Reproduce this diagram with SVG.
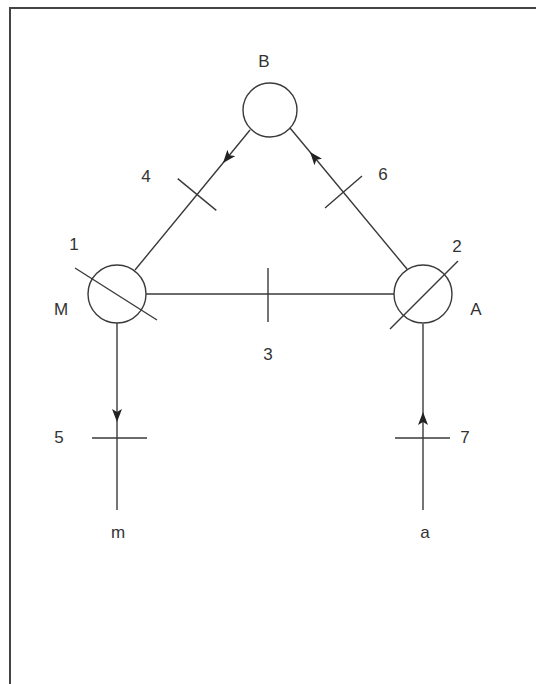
<svg xmlns="http://www.w3.org/2000/svg" width="536" height="684" viewBox="0 0 536 684">
<style>
.ln{stroke:#3a3a3a;stroke-width:1.4;fill:none}
.nd{stroke:#3a3a3a;stroke-width:1.4;fill:#fff}
.tx{font-family:"Liberation Sans",Arial,sans-serif;font-size:17px;fill:#333;text-anchor:middle}
.fr{stroke:#444;stroke-width:2;fill:none}
</style>
<defs>
<marker id="ah" viewBox="0 0 13 10" refX="13" refY="5" markerWidth="13" markerHeight="10" markerUnits="userSpaceOnUse" orient="auto">
<path d="M0,0 L13,5 L0,10 L3,5 Z" fill="#222"/>
</marker>
</defs>
<rect width="536" height="684" fill="#fff"/>
<path class="fr" d="M10,684 L10,8 L536,8"/>
<g id="connectors">
<path class="ln" d="M250,130 L223,163 L135,270" marker-mid="url(#ah)"/>
<line class="ln" x1="177.7" y1="178.6" x2="216.3" y2="210.4"/>
<path class="ln" d="M407,269 L310,152 L290,128" marker-mid="url(#ah)"/>
<line class="ln" x1="362" y1="176" x2="325" y2="208"/>
<line class="ln" x1="146" y1="294" x2="394" y2="294"/>
<line class="ln" x1="268" y1="268" x2="268" y2="322"/>
<path class="ln" d="M117,323 L117,422 L117,510" marker-mid="url(#ah)"/>
<line class="ln" x1="92" y1="438" x2="147" y2="438"/>
<path class="ln" d="M423,510 L423,412 L423,324" marker-mid="url(#ah)"/>
<line class="ln" x1="395" y1="438" x2="450" y2="438"/>
</g>
<g id="node-B">
<circle class="nd" cx="270" cy="110" r="27"/>
<text class="tx" x="264" y="67">B</text>
</g>
<g id="node-M">
<circle class="nd" cx="117" cy="294" r="29"/>
<line class="ln" x1="75" y1="268" x2="157" y2="320"/>
<text class="tx" x="74" y="250">1</text>
<text class="tx" x="61" y="315">M</text>
</g>
<g id="node-A">
<circle class="nd" cx="423" cy="294" r="29"/>
<line class="ln" x1="458" y1="261" x2="390" y2="329"/>
<text class="tx" x="457" y="252">2</text>
<text class="tx" x="476" y="315">A</text>
</g>
<g id="labels">
<text class="tx" x="146" y="182">4</text>
<text class="tx" x="383" y="180">6</text>
<text class="tx" x="268" y="360">3</text>
<text class="tx" x="59" y="443">5</text>
<text class="tx" x="465" y="443">7</text>
<text class="tx" x="118" y="538">m</text>
<text class="tx" x="425" y="538">a</text>
</g>
</svg>
